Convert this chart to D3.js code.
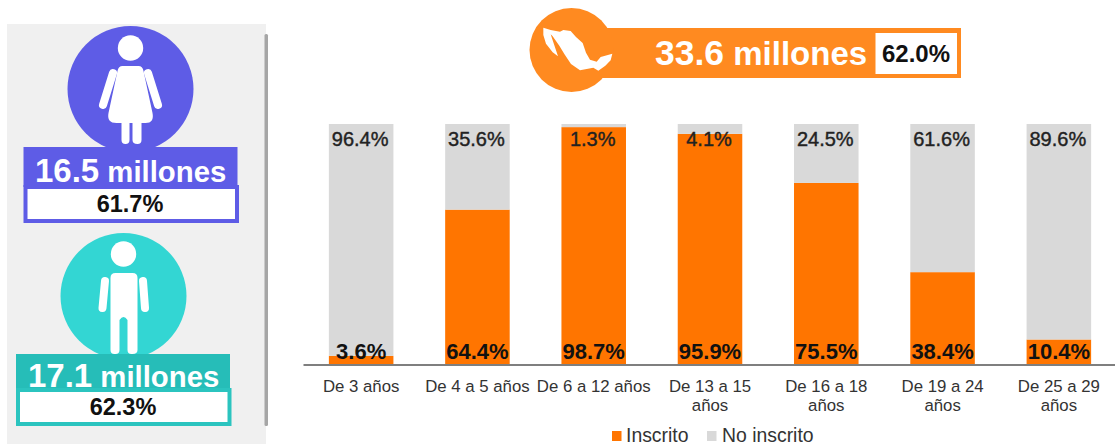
<!DOCTYPE html>
<html>
<head>
<meta charset="utf-8">
<script src="https://cdn.jsdelivr.net/npm/d3@7"></script>
<style>
  html, body { margin: 0; padding: 0; background: #fff; }
  svg { display: block; }
  text { font-family: "Liberation Sans", Arial, sans-serif; }
</style>
</head>
<body>
<svg id="chart" width="1115" height="444"></svg>
<script>
var categories = ['De 3 años', 'De 4 a 5 años', 'De 6 a 12 años', 'De 13 a 15 años', 'De 16 a 18 años', 'De 19 a 24 años', 'De 25 a 29 años']
var inscrito = [3.6, 64.4, 98.7, 95.9, 75.5, 38.4, 10.4]
var noInscrito = [96.4, 35.6, 1.3, 4.1, 24.5, 61.6, 89.6]
var seriesNames = ['Inscrito', 'No inscrito']

var orange = '#ff7500'
var gray = '#d9d9d9'
var badgeOrange = '#ff8a20'

var svg = d3.select('#chart')

// left panel
svg.append('rect').attr('x', 7).attr('y', 24).attr('width', 259).attr('height', 420).attr('fill', '#f0f0f0')
svg.append('rect').attr('x', 264.5).attr('y', 34).attr('width', 3.5).attr('height', 392).attr('rx', 1.5).attr('fill', '#a6a6a6')

function person (cx, cy, color, drawBody) {
  var g = svg.append('g')
  g.append('circle').attr('cx', cx).attr('cy', cy).attr('r', 63).attr('fill', color)
  drawBody(g.append('g').attr('transform', 'translate(' + cx + ',' + cy + ')').attr('fill', '#fff'))
}

function arm (g, x1, y1, x2, y2) {
  g.append('line').attr('x1', x1).attr('y1', y1).attr('x2', x2).attr('y2', y2)
    .attr('stroke', '#fff').attr('stroke-width', 8).attr('stroke-linecap', 'round')
}

person(130.5, 89, '#5e5ce6', function (g) {
  g.append('circle').attr('cy', -41).attr('r', 12.7)
  g.append('path').attr('d', 'M-8,-23 L8,-23 Q12,-23 13,-18 L22,24 Q24,34 15,34 L11,34 L11,51 Q11,55 7,55 Q2,55 2,51 L2,34 L-1,34 L-1,51 Q-1,55 -5,55 Q-9,55 -9,51 L-9,34 L-14,34 Q-24,34 -22,24 L-13,-18 Q-12,-23 -8,-23 Z')
  arm(g, -17.5, -16, -27.5, 16)
  arm(g, 17.5, -16, 27.5, 16)
})

person(123.5, 296, '#33d6d3', function (g) {
  g.append('circle').attr('cy', -42).attr('r', 12.7)
  g.append('path').attr('d', 'M-8,-23 L9,-23 Q14,-23 14,-18 L14,54 Q14,58 9,58 L8,58 Q4,58 4,54 L4,24 Q0,18 -4,24 L-4,54 Q-4,58 -8,58 L-9,58 Q-13,58 -13,54 L-13,-18 Q-13,-23 -8,-23 Z')
  arm(g, -18.5, -15, -21, 12)
  arm(g, 19.5, -15, 21.5, 12)
})

function genderLabel (x, y, boxY, fillHead, stroke, num, pct, tx, numX, numY, pctY) {
  svg.append('rect').attr('x', x).attr('y', y).attr('width', 214).attr('height', boxY - y).attr('fill', fillHead)
  svg.append('rect').attr('x', x + 2).attr('y', boxY).attr('width', 211.5).attr('height', 34)
    .attr('fill', '#fff').attr('stroke', stroke).attr('stroke-width', 4)
  var t = svg.append('text').attr('x', numX).attr('y', numY).attr('fill', '#fff').attr('font-weight', 'bold')
  t.append('tspan').attr('font-size', 33).text(num)
  t.append('tspan').attr('font-size', 29.3).text(' millones')
  svg.append('text').attr('x', tx).attr('y', pctY).attr('text-anchor', 'middle')
    .attr('font-size', 23.5).attr('font-weight', 'bold').attr('fill', '#111').text(pct)
}

genderLabel(23.5, 147, 187, '#5e5ce6', '#5e5ce6', '16.5', '61.7%', 130, 35, 182, 212)
genderLabel(16, 354, 390, '#26bdb8', '#2bc4bf', '17.1', '62.3%', 123, 28, 387, 415)

// top badge
svg.append('rect').attr('x', 600).attr('y', 28).attr('width', 361).attr('height', 50).attr('fill', badgeOrange)
svg.append('circle').attr('cx', 571.5).attr('cy', 50).attr('r', 42).attr('fill', badgeOrange)
svg.append('path')
  .attr('transform', 'translate(530,15) scale(0.3333)')
  .attr('fill', '#fff')
  .attr('d', 'M40,38 L62,45 L90,50 L100,45 L122,48 L138,66 L158,84 L168,113 L180,134 L200,140 L212,126 L247,116 L242,136 L226,152 L205,167 L190,158 L150,166 L123,147 L103,117 L88,92 L68,64 L62,58 L84,124 L68,112 L48,86 L40,60 Z')
svg.append('rect').attr('x', 875.5).attr('y', 33).attr('width', 81.5).attr('height', 41).attr('fill', '#fff')
var badge = svg.append('text').attr('x', 655).attr('y', 65).attr('fill', '#fff').attr('font-weight', 'bold')
badge.append('tspan').attr('font-size', 35.5).text('33.6')
badge.append('tspan').attr('font-size', 33).text(' millones')
svg.append('text').attr('x', 916).attr('y', 62).attr('text-anchor', 'middle')
  .attr('font-size', 24).attr('font-weight', 'bold').attr('fill', '#111').text('62.0%')

// stacked bars
var x = d3.scaleBand().domain(categories).range([303, 1117]).paddingInner(0.445).paddingOuter(0.2225)
var y = d3.scaleLinear().domain([0, 100]).range([364.5, 124])

var rows = categories.map(function (c, i) {
  return { category: c, 'Inscrito': inscrito[i], 'No inscrito': noInscrito[i] }
})
var stacked = d3.stack().keys(seriesNames)(rows)
var color = d3.scaleOrdinal().domain(seriesNames).range([orange, gray])

svg.append('g').selectAll('g')
  .data(stacked)
  .join('g')
  .attr('fill', function (d) { return color(d.key) })
  .selectAll('rect')
  .data(function (d) { return d })
  .join('rect')
  .attr('x', function (d) { return x(d.data.category) })
  .attr('y', function (d) { return y(d[1]) })
  .attr('width', x.bandwidth())
  .attr('height', function (d) { return y(d[0]) - y(d[1]) })

// value labels sit at the bottom and top of each column, not inside their segment
svg.append('g').selectAll('text')
  .data(inscrito)
  .join('text')
  .attr('x', function (d, i) { return x(categories[i]) + x.bandwidth() / 2 })
  .attr('y', y(0) - 6)
  .attr('text-anchor', 'middle')
  .attr('font-size', 22)
  .attr('font-weight', 'bold')
  .attr('fill', '#111')
  .text(function (d) { return d.toFixed(1) + '%' })

svg.append('g').selectAll('text')
  .data(noInscrito)
  .join('text')
  .attr('x', function (d, i) { return x(categories[i]) + x.bandwidth() / 2 - 1 })
  .attr('y', y(100) + 22)
  .attr('text-anchor', 'middle')
  .attr('font-size', 20)
  .attr('fill', '#222')
  .attr('stroke', '#222')
  .attr('stroke-width', 0.4)
  .text(function (d) { return d.toFixed(1) + '%' })

// axis
var axis = svg.append('g')
  .attr('transform', 'translate(0,' + y(0) + ')')
  .call(d3.axisBottom(x).tickSize(0).tickPadding(0))
axis.select('.domain').attr('stroke', '#7f7f7f').attr('stroke-width', 2)
axis.selectAll('.tick text')
  .attr('font-family', null)
  .attr('font-size', 16.8)
  .attr('fill', '#333')
  .attr('dy', null)
  .call(wrap, x.step())

function wrap (labels, width) {
  labels.each(function () {
    var label = d3.select(this)
    var words = label.text().split(' ')
    var line = []
    var lineNo = 0
    label.text(null)
    var tspan = label.append('tspan').attr('x', 0).attr('y', 27)
    words.forEach(function (w) {
      line.push(w)
      tspan.text(line.join(' '))
      if (tspan.node().getComputedTextLength() > width && line.length > 1) {
        line.pop()
        tspan.text(line.join(' '))
        line = [w]
        lineNo++
        tspan = label.append('tspan').attr('x', 0).attr('y', 27 + lineNo * 19).text(w)
      }
    })
  })
}

// legend
var legendX = [612, 707]
var legend = svg.append('g').selectAll('g')
  .data(seriesNames)
  .join('g')
  .attr('transform', function (d, i) { return 'translate(' + legendX[i] + ',431)' })
legend.append('rect').attr('width', 9.5).attr('height', 10)
  .attr('fill', function (d) { return color(d) })
legend.append('text').attr('x', function (d, i) { return i ? 15 : 14 }).attr('y', 10.5)
  .attr('font-size', 19.4).attr('fill', '#333')
  .text(function (d) { return d })
</script>
</body>
</html>
